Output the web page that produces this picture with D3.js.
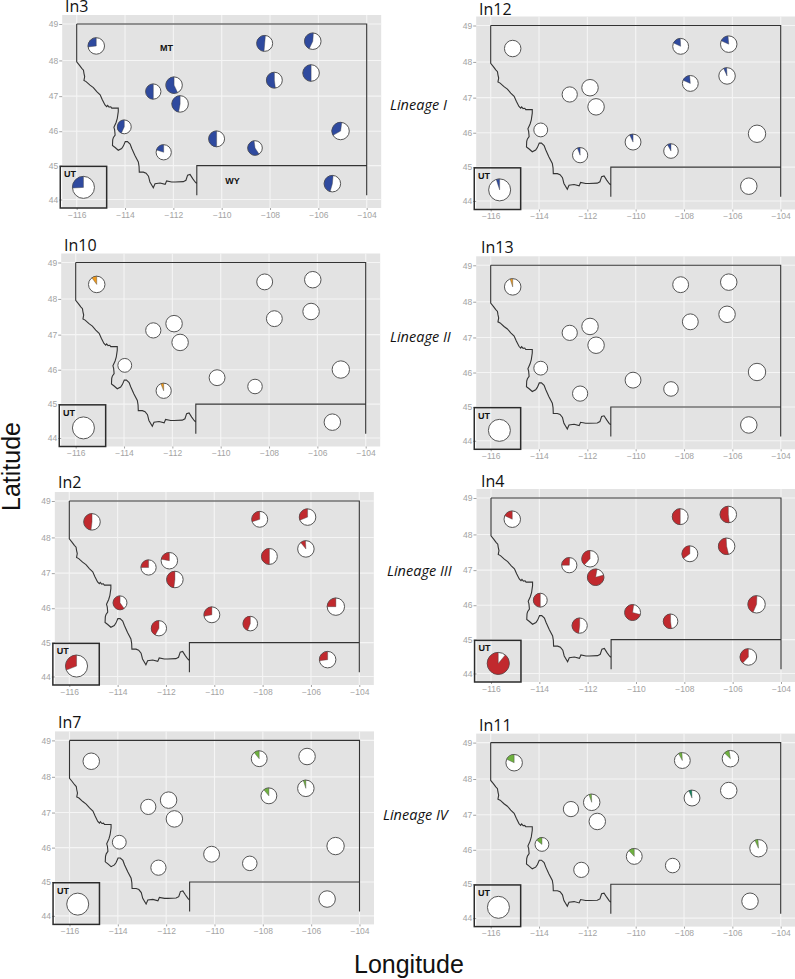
<!DOCTYPE html>
<html>
<head>
<meta charset="utf-8">
<script src="https://cdn.jsdelivr.net/npm/d3@7"></script>
<style>
	body { margin: 0; background: #fff; }
	svg { display: block; }
	.title { font-family: "Open Sans", sans-serif; font-size: 16px; fill: #111; }
	.lineage { font-family: "Open Sans", sans-serif; font-style: italic; font-size: 14.5px; fill: #111; }
	.big { font-family: "Liberation Sans", sans-serif; font-size: 25px; fill: #111; }
	.state { font-family: "Liberation Sans", sans-serif; font-weight: bold; font-size: 9px; fill: #111; }
	.axis text { font-family: "Liberation Sans", sans-serif; font-size: 8.5px; fill: #a3a3a3; }
	.axis line { stroke: #a3a3a3; }
	.axis .domain { display: none; }
</style>
</head>
<body>
<div id="chart"></div>
<script>
const width = 795;
const height = 979;

// sites, in the order used by every array below
const siteNames = ['UT','A','B','C','D','E','F','G','H','I','J','K','L','M','N'];
const siteSamples = [48,27,25,27,25,27,27,23,27,19,23,25,21,30,27];

// pie centres
const in3Lon  = [-115.72,-115.19,-108.22,-106.23,-107.82,-106.30,-111.97,-112.83,-111.72,-114.03,-112.40,-110.21,-108.62,-105.08,-105.42];
const in3Lat  = [44.36,48.40,48.47,48.53,47.45,47.65,47.31,47.13,46.78,46.125,45.39,45.78,45.515,46.005,44.47];
const in12Lon = [-115.63,-115.09,-108.14,-106.15,-107.74,-106.22,-111.89,-112.73,-111.64,-113.93,-112.30,-110.11,-108.54,-104.98,-105.32];
const in12Lat = [44.33,48.37,48.43,48.49,47.40,47.61,47.28,47.09,46.74,46.08,45.35,45.73,45.47,45.97,44.44];
const in10Lon = [-115.68,-115.13,-108.18,-106.19,-107.78,-106.26,-111.93,-112.79,-111.68,-113.97,-112.36,-110.15,-108.58,-105.03,-105.38];
const in10Lat = [44.30,48.40,48.47,48.53,47.45,47.65,47.31,47.12,46.78,46.125,45.39,45.77,45.515,46.005,44.47];
const in13Lon = [-115.64,-115.09,-108.14,-106.15,-107.74,-106.22,-111.89,-112.73,-111.64,-113.93,-112.30,-110.11,-108.54,-104.98,-105.32];
const in13Lat = [44.31,48.41,48.47,48.54,47.44,47.65,47.31,47.13,46.78,46.125,45.39,45.78,45.525,46.015,44.47];
const in2Lon  = [-115.70,-115.06,-108.12,-106.14,-107.72,-106.21,-111.86,-112.72,-111.63,-113.90,-112.29,-110.10,-108.51,-104.97,-105.31];
const in2Lat  = [44.31,48.43,48.50,48.56,47.47,47.68,47.35,47.16,46.82,46.155,45.42,45.81,45.555,46.045,44.50];
const in4Lon  = [-115.70,-115.12,-108.17,-106.18,-107.77,-106.25,-111.90,-112.76,-111.67,-113.96,-112.33,-110.14,-108.57,-105.01,-105.35];
const in4Lat  = [44.30,48.42,48.49,48.55,47.46,47.67,47.32,47.14,46.80,46.145,45.41,45.79,45.535,46.025,44.49];
const in7Lon  = [-115.66,-115.10,-108.15,-106.17,-107.75,-106.22,-111.90,-112.74,-111.66,-113.94,-112.32,-110.12,-108.54,-104.99,-105.34];
const in7Lat  = [44.35,48.43,48.50,48.56,47.47,47.68,47.35,47.16,46.82,46.155,45.42,45.81,45.545,46.045,44.50];
const in11Lon = [-115.68,-115.03,-108.07,-106.08,-107.67,-106.15,-111.82,-112.68,-111.59,-113.88,-112.25,-110.06,-108.47,-104.92,-105.27];
const in11Lat = [44.32,48.45,48.51,48.56,47.47,47.68,47.35,47.16,46.81,46.155,45.42,45.81,45.545,46.045,44.50];

// coloured share of each pie
const in3Share  = [.26,.27,.50,.44,.52,.50,.57,.50,.47,.43,.20,.50,.57,.355,.47];
const in12Share = [.05,0,.17,.17,.17,.06,0,0,0,0,.06,.07,.08,0,0];
const in10Share = [0,.10,0,0,0,0,0,0,0,0,.06,0,0,0,0];
const in13Share = [0,.05,0,0,0,0,0,0,0,0,0,0,0,0,0];
const in2Share  = [.31,.48,.30,.31,.50,.10,.22,.25,.48,.60,.42,.28,.44,.25,.27];
const in4Share  = [.89,.18,.50,.52,.35,.53,.38,.26,.82,.50,.48,.73,.52,.44,.38];
const in7Share  = [0,0,.11,0,.11,.05,0,0,0,0,0,0,0,0,0];
const in11Share = [0,.18,.07,.10,.06,0,.05,0,0,.14,0,.12,0,.06,0];

// where the wedge ends, degrees off 12 o'clock
const in3Turn  = [0,0,5,4,0,0,0,0,0,0,0,0,-8,8,5];
const in12Turn = [0,0,-3,-5,-5,-3,0,0,0,0,0,0,0,0,0];
const in2Turn  = [0,0,0,0,0,-3,0,0,0,0,0,0,0,0,0];
const in4Turn  = [0,0,0,0,0,-3,0,3,10,0,0,8,0,2,0];
const noTurn   = [0,0,0,0,0,0,0,0,0,0,0,0,0,0,0];
const in11Turn = [0,0,-3,-10,-2,0,-2,0,0,0,0,0,0,-3,0];

// Montana west border (north to south)
const borderLon = [-116,-115.89,-115.79,-115.72,-115.70,-115.67,-115.70,-115.61,-115.45,-115.31,-115.17,-115.03,-114.94,-114.83,-114.76,-114.72,-114.66,-114.59,-114.55,-114.28,-114.28,-114.32,-114.37,-114.46,-114.43,-114.41,-114.48,-114.51,-114.52,-114.41,-114.28,-114.14,-114.07,-113.99,-113.90,-113.79,-113.72,-113.59,-113.45,-113.42,-113.41,-113.24,-113.13,-113.03,-112.97,-112.83,-112.76,-112.55,-112.34,-112.28,-112.07,-111.93,-111.59,-111.48,-111.41,-111.31,-111.20,-111.10,-111.03];
const borderLat = [47.96,47.87,47.78,47.73,47.64,47.55,47.44,47.41,47.31,47.24,47.13,47.04,46.90,46.75,46.70,46.74,46.69,46.70,46.66,46.66,46.56,46.37,46.25,46.11,46.04,45.89,45.82,45.75,45.59,45.53,45.45,45.50,45.57,45.70,45.70,45.63,45.50,45.30,45.11,44.98,44.81,44.81,44.78,44.69,44.52,44.35,44.47,44.49,44.45,44.55,44.52,44.52,44.53,44.57,44.72,44.74,44.62,44.52,44.47];

const lonTicks = [-116,-114,-112,-110,-108,-106,-104];
const latTicks = [44,45,46,47,48,49];

const panelNames = ['In3','In12','In10','In13','In2','In4','In7','In11'];
const panelColors = ['#2f4a9f','#2f4a9f','#ef9a1c','#ef9a1c','#c1292e','#c1292e','#6fb23f','#6fb23f'];
const lineageNames = ['Lineage I','Lineage II','Lineage III','Lineage IV'];

// panel layout
const panelW = 319;
const panelH = 193;
const panelLeft = [62.2,476.2,61.2,476.2,54.8,476.5,55,476.2];
const panelTop  = [15,16.5,253.5,256.3,492,489,731.4,733.6];
const titleX = [65,479,64,481,58,481,58,479];
const titleY = [12,15,251,253,488,486.5,728,731];
const lineageX = [390,390,387,383];
const lineageY = [110,342,576,820];

const panels = panelNames.map((name,i) => ({
	name,
	color: panelColors[i],
	left: panelLeft[i],
	top: panelTop[i],
	titleX: titleX[i],
	titleY: titleY[i],
	lon: [in3Lon,in12Lon,in10Lon,in13Lon,in2Lon,in4Lon,in7Lon,in11Lon][i],
	lat: [in3Lat,in12Lat,in10Lat,in13Lat,in2Lat,in4Lat,in7Lat,in11Lat][i],
	share: [in3Share,in12Share,in10Share,in13Share,in2Share,in4Share,in7Share,in11Share][i],
	turn: [in3Turn,in12Turn,noTurn,noTurn,in2Turn,in4Turn,noTurn,in11Turn][i]
}));

const svg = d3.select('#chart').append('svg')
	.attr('width', width)
	.attr('height', height);

// the maps use a Mercator y, gridlines spread out going north
const merc = lat => Math.log(Math.tan(Math.PI / 4 + lat * Math.PI / 360));
const scaleR = d3.scaleSqrt().domain([0, d3.max(siteSamples)]).range([0, 11]);
const arc = d3.arc().innerRadius(0);

function drawPanel(p){
	const plot = svg.append('g')
		.attr('transform', `translate(${p.left},${p.top})`);

	const scaleX = d3.scaleLinear().domain([-116.6,-103.4]).range([0, panelW]);
	const scaleY = d3.scaleLinear().domain([merc(44), merc(49)]).range([184.5, 9]);
	const y = lat => scaleY(merc(lat));

	plot.append('rect')
		.attr('width', panelW)
		.attr('height', panelH)
		.attr('fill', '#e3e3e3');

	plot.selectAll('.grid-x')
		.data(lonTicks)
		.enter().append('line')
		.attr('class', 'grid-x')
		.attr('x1', d => scaleX(d))
		.attr('x2', d => scaleX(d))
		.attr('y2', panelH)
		.attr('stroke', '#f5f5f5')
		.attr('stroke-width', 1.1);

	plot.selectAll('.grid-y')
		.data(latTicks)
		.enter().append('line')
		.attr('class', 'grid-y')
		.attr('y1', d => y(d))
		.attr('y2', d => y(d))
		.attr('x2', panelW)
		.attr('stroke', '#f5f5f5')
		.attr('stroke-width', 1.1);

	// axes
	const axisX = d3.axisBottom(scaleX).tickValues(lonTicks).tickSize(2).tickPadding(1.5);
	const axisY = d3.axisLeft(d3.scaleLinear().domain([0, 1]).range([0, 1]))
		.tickValues(latTicks.map(y))
		.tickFormat((d,i) => latTicks[i])
		.tickSize(3)
		.tickPadding(1);

	plot.append('g')
		.attr('class', 'axis')
		.attr('transform', `translate(0,${panelH})`)
		.call(axisX);

	plot.append('g')
		.attr('class', 'axis')
		.call(axisY);

	// state lines
	const line = d3.line().x(d => scaleX(d[0])).y(d => y(d[1]));
	const border = borderLon.map((d,i) => [d, borderLat[i]]);
	const outline = [[-116,49]].concat(border, [[-111.03,44.13],[-111.03,45],[-104,45],[-104,44.13],[-104,49],[-116,49]]);

	plot.append('path')
		.attr('d', line(outline))
		.attr('fill', 'none')
		.attr('stroke', '#333')
		.attr('stroke-width', 1.1);

	// Utah inset
	plot.append('rect')
		.attr('x', scaleX(-116.68))
		.attr('y', y(44.98))
		.attr('width', scaleX(-114.76) - scaleX(-116.68))
		.attr('height', panelH - y(44.98))
		.attr('fill', 'none')
		.attr('stroke', '#2b2b2b')
		.attr('stroke-width', 1.5);

	plot.append('text')
		.attr('class', 'state')
		.attr('x', scaleX(-116.52))
		.attr('y', y(44.66))
		.text('UT');

	if (p.name === 'In3') {
		plot.append('text').attr('class', 'state').attr('text-anchor', 'middle')
			.attr('x', scaleX(-112.28)).attr('y', y(48.27)).text('MT');
		plot.append('text').attr('class', 'state').attr('text-anchor', 'middle')
			.attr('x', scaleX(-109.55)).attr('y', y(44.46)).text('WY');
	}

	// pies
	const site = plot.selectAll('.site')
		.data(siteNames)
		.enter().append('g')
		.attr('class', 'site')
		.attr('transform', (d,i) => `translate(${scaleX(p.lon[i])},${y(p.lat[i])})`);

	site.append('circle')
		.attr('r', (d,i) => scaleR(siteSamples[i]))
		.attr('fill', '#fff')
		.attr('stroke', '#555')
		.attr('stroke-width', 1);

	site.filter((d,i) => p.share[i] > 0)
		.append('path')
		.attr('d', function(d){
			const i = siteNames.indexOf(d);
			const end = p.turn[i] * Math.PI / 180;
			return arc({
				outerRadius: scaleR(siteSamples[i]),
				startAngle: end - p.share[i] * 2 * Math.PI,
				endAngle: end
			});
		})
		.attr('fill', d => (p.name === 'In11' && d === 'D') ? '#11865f' : p.color)
		.attr('stroke', '#444')
		.attr('stroke-width', .4);

	svg.append('text')
		.attr('class', 'title')
		.attr('x', p.titleX)
		.attr('y', p.titleY)
		.text(p.name);
}

panels.forEach(drawPanel);

svg.selectAll('.lineage')
	.data(lineageNames)
	.enter().append('text')
	.attr('class', 'lineage')
	.attr('x', (d,i) => lineageX[i])
	.attr('y', (d,i) => lineageY[i])
	.text(d => d);

svg.append('text')
	.attr('class', 'big')
	.attr('text-anchor', 'middle')
	.attr('transform', 'translate(20,466.5) rotate(-90)')
	.text('Latitude');

svg.append('text')
	.attr('class', 'big')
	.attr('x', 354)
	.attr('y', 973)
	.text('Longitude');
</script>
</body>
</html>
